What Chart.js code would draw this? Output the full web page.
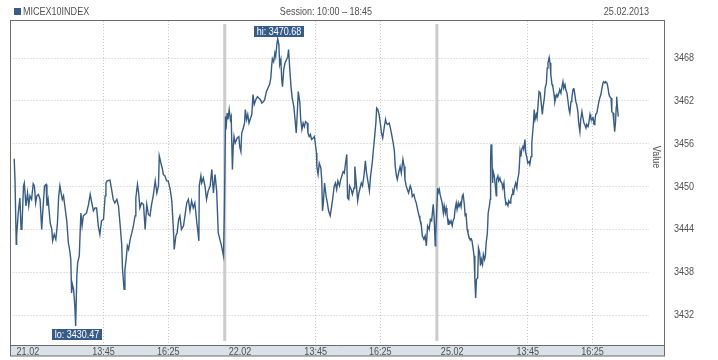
<!DOCTYPE html>
<html>
<head>
<meta charset="utf-8">
<script src="https://cdn.jsdelivr.net/npm/chart.js@4.4.1/dist/chart.umd.min.js"></script>
<style>
  body { margin: 0; background: #fff; }
</style>
</head>
<body>
<canvas id="micex" width="718" height="360"></canvas>
<script>
const seriesName = 'MICEX10INDEX';
const sessionOpen = '10:00';
const sessionClose = '18:45';
const chartDate = '25.02.2013';
const days = ['21.02', '22.02', '25.02'];
const timeTicks = ['13:45', '16:25'];
const yTicks = [3432, 3438, 3444, 3450, 3456, 3462, 3468];
const yMin = 3427.8;
const yMax = 3473.2;

// [minutes since session open, index value]
const day1 = [[4,3453.9],[6,3450.8],[9,3441.9],[10,3443.1],[14,3446.3],[18,3448.4],[21,3444.0],[23,3444.2],[27,3450.1],[29,3450.5],[33,3447.3],[37,3449.1],[40,3447.3],[43,3448.7],[47,3448.2],[51,3450.4],[54,3450.1],[57,3447.7],[60,3448.7],[64,3448.9],[68,3448.2],[72,3444.0],[74,3445.9],[79,3450.1],[83,3450.3],[85,3447.3],[88,3448.2],[93,3444.9],[97,3444.0],[99,3442.4],[103,3443.3],[107,3442.6],[111,3444.9],[114,3448.6],[117,3450.1],[120,3449.1],[123,3448.2],[126,3448.7],[130,3447.0],[134,3445.2],[138,3442.1],[141,3441.2],[144,3439.8],[146,3435.1],[148,3436.3],[151,3435.6],[154,3433.3],[156,3430.47],[159,3437.5],[161,3439.3],[165,3440.3],[169,3446.3],[172,3444.5],[175,3445.9],[179,3446.1],[183,3446.3],[188,3447.5],[192,3448.9],[196,3447.7],[200,3446.6],[204,3447.0],[208,3447.0],[212,3444.5],[216,3443.3],[220,3445.2],[225,3445.4],[229,3448.7],[231,3450.5],[234,3450.8],[241,3450.9],[245,3449.6],[249,3448.2],[253,3447.7],[258,3448.2],[262,3447.3],[266,3444.7],[270,3441.9],[272,3438.4],[276,3435.6],[278,3438.4],[281,3439.8],[284,3441.7],[287,3441.2],[291,3442.6],[295,3443.5],[299,3444.5],[303,3445.9],[305,3448.4],[309,3450.3],[312,3449.1],[315,3447.0],[319,3447.7],[324,3447.5],[328,3444.0],[332,3447.5],[336,3446.1],[340,3445.9],[344,3447.5],[348,3448.7],[353,3450.8],[357,3449.1],[361,3450.1],[363,3454.3],[367,3453.3],[371,3452.4],[373,3451.7],[377,3451.5],[381,3450.8],[385,3450.8],[390,3449.6],[394,3448.0],[398,3444.0],[400,3441.2],[404,3443.1],[407,3443.5],[411,3445.4],[414,3445.9],[418,3444.0],[423,3444.5],[427,3446.1],[431,3447.7],[435,3448.2],[439,3446.6],[443,3448.0],[447,3447.0],[451,3447.7],[456,3444.9],[458,3444.0],[461,3442.4],[462,3450.1],[466,3451.5],[468,3450.5],[472,3451.2],[476,3450.1],[480,3448.2],[484,3449.4],[489,3450.1],[493,3452.4],[497,3449.1],[501,3451.7],[505,3449.4],[509,3443.5],[513,3442.6],[517,3441.7],[522,3440.3],[524,3446.1]];

const day2 = [[2,3459.8],[3,3458.0],[6,3460.3],[8,3459.4],[11,3460.8],[14,3459.4],[16,3459.8],[19,3452.4],[21,3455.6],[23,3457.0],[26,3456.1],[31,3456.8],[35,3457.0],[37,3455.6],[40,3454.9],[42,3457.5],[45,3458.0],[49,3458.9],[51,3460.8],[54,3459.4],[57,3460.1],[60,3458.9],[64,3459.6],[67,3460.1],[70,3462.9],[73,3461.5],[77,3462.2],[81,3462.6],[84,3462.4],[88,3462.2],[92,3461.7],[96,3461.9],[99,3462.2],[103,3463.3],[107,3463.8],[111,3464.3],[114,3465.2],[116,3466.8],[118,3467.9],[121,3467.5],[124,3468.7],[126,3468.2],[129,3469.9],[131,3470.68],[134,3469.9],[136,3467.1],[139,3467.8],[141,3465.0],[143,3464.0],[146,3466.4],[149,3467.3],[153,3467.8],[156,3468.2],[158,3469.2],[161,3466.4],[164,3464.0],[167,3462.4],[171,3461.2],[174,3459.4],[177,3457.5],[180,3460.8],[182,3463.3],[186,3461.7],[188,3459.4],[191,3458.0],[194,3458.9],[197,3458.4],[200,3459.1],[204,3458.9],[206,3457.5],[209,3457.0],[212,3457.3],[215,3456.6],[219,3456.8],[222,3457.0],[224,3456.1],[227,3454.7],[228,3452.8],[231,3451.7],[234,3453.3],[238,3452.6],[240,3451.0],[242,3446.6],[244,3447.7],[247,3450.5],[251,3448.6],[254,3447.7],[257,3446.6],[261,3445.9],[264,3447.0],[267,3448.2],[271,3450.1],[274,3450.5],[277,3449.6],[280,3450.8],[284,3450.1],[287,3451.0],[290,3451.5],[293,3452.1],[296,3451.9],[299,3453.3],[302,3454.5],[304,3448.4],[307,3448.2],[309,3450.1],[313,3449.6],[316,3448.9],[320,3449.8],[322,3452.8],[326,3450.1],[329,3448.0],[332,3449.1],[335,3449.8],[338,3450.5],[341,3450.1],[345,3451.7],[348,3453.6],[351,3451.9],[355,3450.5],[358,3449.4],[361,3451.5],[365,3453.3],[368,3455.2],[371,3457.0],[374,3458.9],[376,3461.0],[379,3460.8],[382,3460.1],[385,3458.9],[388,3457.5],[391,3456.8],[394,3458.0],[398,3459.4],[400,3458.9],[403,3458.7],[407,3458.9],[410,3458.2],[413,3457.3],[417,3456.1],[420,3454.9],[422,3452.8],[425,3451.5],[427,3451.0],[431,3452.1],[434,3452.8],[437,3451.9],[441,3453.8],[444,3452.8],[446,3451.0],[449,3450.1],[452,3449.6],[455,3449.1],[459,3450.1],[462,3449.6],[464,3448.6],[468,3448.9],[471,3448.2],[474,3447.7],[478,3446.6],[481,3445.9],[483,3445.4],[486,3444.9],[489,3443.1],[493,3442.6],[496,3443.1],[499,3441.7],[502,3444.5],[506,3444.0],[509,3445.4],[512,3445.2],[516,3447.5],[518,3445.9],[521,3441.7],[522,3443.1]];

const day3 = [[2,3449.8],[3,3449.1],[6,3449.6],[8,3448.9],[11,3448.2],[13,3447.7],[16,3446.3],[18,3447.3],[21,3446.3],[23,3447.0],[25,3446.3],[28,3444.7],[30,3445.2],[33,3444.9],[35,3445.2],[38,3444.5],[40,3445.2],[43,3445.6],[45,3446.8],[48,3447.7],[50,3446.8],[53,3447.7],[55,3447.2],[58,3447.7],[60,3447.2],[63,3448.7],[65,3448.9],[68,3447.5],[70,3445.9],[72,3446.3],[75,3444.0],[77,3443.5],[80,3442.8],[82,3442.6],[85,3442.7],[87,3442.4],[90,3441.2],[92,3440.3],[94,3437.0],[96,3434.4],[98,3437.0],[101,3437.2],[103,3441.4],[106,3440.7],[108,3438.9],[110,3439.8],[113,3439.1],[115,3440.5],[118,3439.8],[120,3440.3],[122,3442.1],[125,3443.5],[127,3446.3],[130,3447.3],[132,3448.2],[133,3453.8],[134,3455.9],[136,3455.2],[138,3450.5],[139,3452.2],[142,3451.5],[144,3450.5],[147,3448.7],[148,3451.0],[151,3451.5],[153,3450.8],[156,3451.2],[158,3450.7],[161,3450.5],[163,3449.8],[166,3450.5],[168,3448.7],[171,3447.5],[173,3447.7],[176,3447.3],[178,3448.0],[181,3447.7],[183,3448.2],[186,3448.9],[188,3449.4],[190,3449.1],[193,3450.1],[195,3450.5],[198,3449.8],[200,3451.0],[203,3451.9],[205,3453.8],[206,3454.9],[208,3454.2],[210,3455.2],[213,3455.6],[215,3455.2],[218,3456.6],[220,3454.7],[223,3454.0],[225,3453.3],[228,3453.5],[230,3453.1],[233,3454.2],[235,3456.1],[237,3457.5],[239,3458.9],[241,3460.8],[243,3459.4],[246,3460.1],[248,3459.6],[251,3461.9],[253,3463.3],[256,3463.1],[258,3461.9],[261,3460.1],[263,3461.2],[266,3462.4],[268,3463.8],[271,3464.5],[273,3466.6],[275,3467.3],[278,3468.1],[280,3467.3],[282,3465.7],[285,3464.3],[287,3464.0],[290,3462.9],[292,3461.9],[294,3462.4],[297,3462.9],[299,3462.6],[302,3463.1],[304,3463.6],[307,3463.1],[309,3463.8],[312,3464.7],[314,3463.8],[317,3464.3],[319,3463.6],[322,3463.1],[324,3462.2],[327,3460.8],[329,3460.3],[332,3461.9],[334,3462.4],[337,3463.6],[339,3463.8],[341,3463.1],[344,3461.9],[346,3461.5],[349,3460.5],[351,3458.9],[354,3457.7],[356,3459.4],[359,3460.5],[361,3459.8],[364,3458.9],[366,3458.7],[369,3458.2],[371,3458.7],[374,3458.4],[376,3458.9],[379,3460.1],[381,3459.6],[384,3459.4],[386,3459.8],[389,3458.7],[391,3459.1],[393,3460.1],[396,3460.3],[398,3461.0],[401,3461.9],[403,3462.4],[406,3462.9],[408,3463.6],[411,3464.5],[413,3464.7],[416,3464.5],[418,3464.7],[421,3464.5],[423,3464.0],[426,3462.9],[428,3462.6],[431,3462.4],[433,3460.5],[436,3460.3],[438,3459.1],[440,3457.7],[442,3458.9],[444,3461.2],[445,3462.6],[447,3461.0],[449,3459.8]];

const FONT = '11px "Liberation Sans", Arial, sans-serif';
const TEXT = '#505050';
const LINE = '#365c88';

function toMin(t) {
  const p = t.split(':');
  return +p[0] * 60 + +p[1];
}
const sessionLen = toMin(sessionClose) - toMin(sessionOpen);

const points = [];
[day1, day2, day3].forEach(function(day, d) {
  day.forEach(function(p) {
    points.push({x: d * sessionLen + p[0], y: p[1]});
  });
});

const gridTicks = [];
days.forEach(function(_, d) {
  timeTicks.forEach(function(t) {
    gridTicks.push({value: d * sessionLen + toMin(t) - toMin(sessionOpen), label: t});
  });
});

// narrow text: the original uses a condensed face, squeeze Liberation Sans instead
function label(c, txt, x, y, align) {
  c.save();
  c.translate(x, y);
  c.scale(0.82, 1);
  c.textAlign = align;
  c.fillText(txt, 0, 0);
  c.restore();
}

const decor = {
  id: 'decor',
  beforeDraw(chart) {
    const c = chart.ctx, a = chart.chartArea;
    const l = Math.round(a.left) - 2.5, r = Math.round(a.right) + 15.5;
    c.save();
    c.fillStyle = '#d9e0e7';
    c.fillRect(l, a.bottom, r - l, 11);
    c.strokeStyle = '#6b6b6b';
    c.lineWidth = 1;
    c.strokeRect(l, a.top - 0.5, r - l, a.bottom + 11.5 - a.top);
    c.beginPath();
    c.moveTo(l, a.bottom + 0.5);
    c.lineTo(r, a.bottom + 0.5);
    c.stroke();
    c.restore();
  },
  beforeDatasetsDraw(chart) {
    const c = chart.ctx, a = chart.chartArea, x = chart.scales.x;
    c.save();
    c.fillStyle = '#cccccc';
    for (let d = 1; d < days.length; d++) {
      const px = x.getPixelForValue(d * sessionLen);
      c.fillRect(px - 1.5, a.top + 3, 3, a.bottom - a.top - 7);
    }
    c.restore();
  },
  afterDatasetsDraw(chart) {
    const c = chart.ctx, x = chart.scales.x, y = chart.scales.y;
    let hi = points[0], lo = points[0];
    points.forEach(function(p) {
      if (p.y > hi.y) hi = p;
      if (p.y < lo.y) lo = p;
    });
    c.save();
    c.font = FONT;
    c.textBaseline = 'middle';
    [['hi: ', hi, -1], ['lo: ', lo, 1]].forEach(function(m) {
      const txt = m[0] + m[1].y.toFixed(2);
      const w = c.measureText(txt).width * 0.82 + 5;
      const px = x.getPixelForValue(m[1].x) + 1;
      const py = y.getPixelForValue(m[1].y);
      const top = m[2] < 0 ? py - 13 : py + 3;
      c.fillStyle = LINE;
      c.fillRect(Math.round(px - w / 2), Math.round(top), Math.round(w), 11);
      c.fillStyle = '#fff';
      label(c, txt, Math.round(px), Math.round(top) + 6, 'center');
    });
    c.restore();
  },
  afterDraw(chart) {
    const c = chart.ctx, a = chart.chartArea, x = chart.scales.x, y = chart.scales.y;
    c.save();
    c.font = FONT;
    c.textBaseline = 'middle';
    // header
    c.fillStyle = LINE;
    c.fillRect(14, 8, 7, 7);
    c.fillStyle = TEXT;
    label(c, seriesName, 23, 12, 'left');
    label(c, 'Session: ' + sessionOpen + ' \u2013 ' + sessionClose, 326, 12, 'center');
    label(c, chartDate, a.right, 12, 'right');
    // x labels
    const ly = a.bottom + 6.5;
    days.forEach(function(d, i) {
      label(c, d, x.getPixelForValue(i * sessionLen) + 4, ly, 'left');
    });
    gridTicks.forEach(function(t) {
      label(c, t.label, x.getPixelForValue(t.value), ly, 'center');
    });
    // y labels
    yTicks.forEach(function(v) {
      label(c, String(v), a.right + 25, y.getPixelForValue(v), 'left');
    });
    // axis title
    c.translate(a.right + 7, a.top + 136);
    c.rotate(Math.PI / 2);
    label(c, 'Value', 0, 0, 'center');
    c.restore();
  }
};

const ctx = document.getElementById('micex').getContext('2d');
new Chart(ctx, {
  type: 'line',
  data: {
    datasets: [{
      label: seriesName,
      data: points,
      borderColor: LINE,
      borderWidth: 1.4,
      pointRadius: 0,
      tension: 0,
      fill: false
    }]
  },
  options: {
    responsive: false,
    animation: false,
    events: [],
    layout: {padding: {left: 12.6, top: 21, right: 0, bottom: 0}},
    scales: {
      x: {
        type: 'linear',
        min: 0,
        max: sessionLen * days.length,
        afterBuildTicks: function(scale) {
          scale.ticks = gridTicks.map(function(t) { return {value: t.value}; });
        },
        afterFit: function(scale) { scale.height = 15; },
        ticks: {display: false, padding: 0},
        grid: {color: '#c4c4c4', drawTicks: false},
        border: {display: false, dash: [1, 2]}
      },
      y: {
        position: 'right',
        min: yMin,
        max: yMax,
        afterBuildTicks: function(scale) {
          scale.ticks = yTicks.map(function(v) { return {value: v}; });
        },
        afterFit: function(scale) {
          scale.width = 69;
          scale.paddingTop = 0;
          scale.paddingBottom = 0;
        },
        ticks: {display: false, padding: 0},
        grid: {color: '#c4c4c4', drawTicks: false},
        border: {display: false, dash: [1, 2]}
      }
    },
    plugins: {
      legend: {display: false},
      tooltip: {enabled: false}
    }
  },
  plugins: [decor]
});
</script>
</body>
</html>
